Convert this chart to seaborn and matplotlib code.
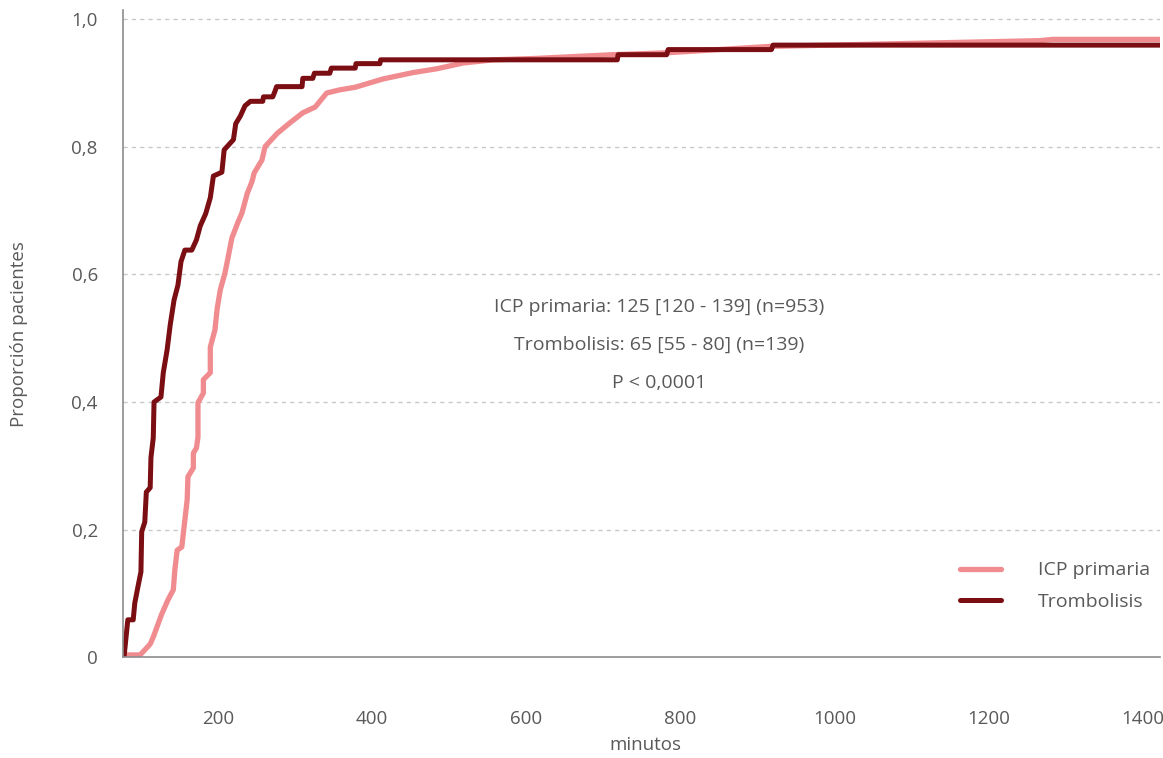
import numpy as np
import pandas as pd
import matplotlib; matplotlib.use("Agg")
import matplotlib.pyplot as plt
import seaborn as sns
from matplotlib.ticker import FixedLocator

# ── colores ──────────────────────────────────────────────────────────────────
PINK   = "#F08C8F"
DARK   = "#7A0E12"
TXT    = "#595959"
GRID   = "#C8C8C8"
SPINE  = "#8C8C8C"

# ── datos ───────────────────────────────────────────────────────────────────
icp_min = [81, 99, 112, 116, 127, 135, 142, 144, 147, 153,
           160, 161, 168, 168, 172, 174, 174, 181, 181, 190,
           190, 196, 199, 203, 209, 213, 218, 226, 231, 238,
           244, 247, 257, 261, 277, 293, 310, 326, 341, 358,
           378, 414, 453, 484, 518, 557, 609, 712, 782, 916,
           1266, 1283, 1422]
icp_prop = [0.004, 0.004, 0.021, 0.032, 0.068, 0.090, 0.106, 0.137, 0.168, 0.173,
            0.247, 0.283, 0.297, 0.320, 0.328, 0.345, 0.399, 0.414, 0.435, 0.446,
            0.486, 0.513, 0.547, 0.576, 0.602, 0.626, 0.657, 0.682, 0.696, 0.727,
            0.745, 0.759, 0.779, 0.800, 0.821, 0.837, 0.853, 0.862, 0.884, 0.889,
            0.893, 0.906, 0.916, 0.922, 0.931, 0.936, 0.938, 0.944, 0.947, 0.957,
            0.966, 0.968, 0.968]

trombo_min = [78, 83, 90, 92, 96, 100, 101, 105, 107, 112,
              113, 116, 117, 126, 129, 134, 138, 143, 148, 152,
              157, 166, 172, 177, 184, 190, 194, 205, 208, 220,
              223, 229, 235, 242, 258, 259, 271, 274, 276, 309,
              310, 323, 325, 345, 347, 378, 379, 410, 411, 718,
              719, 782, 784, 918, 920, 1422]
trombo_prop = [0.0, 0.059, 0.059, 0.085, 0.110, 0.134, 0.197, 0.212, 0.259, 0.266,
               0.313, 0.344, 0.400, 0.408, 0.446, 0.482, 0.521, 0.560, 0.583, 0.620,
               0.638, 0.638, 0.654, 0.676, 0.695, 0.720, 0.754, 0.760, 0.795, 0.811,
               0.836, 0.848, 0.864, 0.871, 0.871, 0.878, 0.878, 0.887, 0.894, 0.894,
               0.907, 0.907, 0.915, 0.915, 0.923, 0.923, 0.930, 0.930, 0.936, 0.936,
               0.944, 0.944, 0.952, 0.952, 0.959, 0.959]

x_ticks = [200, 400, 600, 800, 1000, 1200, 1400]
y_ticks = [0, 0.2, 0.4, 0.6, 0.8, 1.0]
y_labels = ["0", "0,2", "0,4", "0,6", "0,8", "1,0"]

notes = ["ICP primaria: 125 [120 - 139] (n=953)",
         "Trombolisis: 65 [55 - 80] (n=139)",
         "P < 0,0001"]

# ─────────────────────────────────────────────────────────────────────────────
sns.set_style("white")
plt.rcParams["font.family"] = ["Open Sans", "DejaVu Sans"]

df_icp = pd.DataFrame({"min": icp_min, "prop": icp_prop})
df_tro = pd.DataFrame({"min": trombo_min, "prop": trombo_prop})

fig = plt.figure(figsize=(11.63, 7.58), dpi=100)
ax = fig.add_axes([0.1056, 0.1326, 0.8918, 0.8542])

sns.lineplot(data=df_icp, x="min", y="prop", sort=False, estimator=None,
             color=PINK, lw=3.8, label="ICP primaria", ax=ax)
sns.lineplot(data=df_tro, x="min", y="prop", sort=False, estimator=None,
             color=DARK, lw=3.6, label="Trombolisis", ax=ax)

ax.set_xlim(76.5, 1422)
ax.set_ylim(0, 1.014)

ax.set_xticks(x_ticks)
ax.set_xticklabels([str(v) for v in x_ticks])
ax.set_yticks(y_ticks)
ax.set_yticklabels(y_labels)
ax.yaxis.set_minor_locator(FixedLocator([0.1, 0.3, 0.5, 0.7, 0.9]))
ax.tick_params(axis="x", length=0, pad=38, labelsize=13.5, labelcolor=TXT)
ax.tick_params(axis="y", which="major", length=0, pad=18, labelsize=13.5, labelcolor=TXT)
ax.tick_params(axis="y", which="minor", length=3, width=0.8, color="#D0D0D0", direction="in")

for y in y_ticks[1:]:
    ax.axhline(y, color=GRID, lw=1, ls=(0, (3, 3)), zorder=0)

for s in ["top", "right"]:
    ax.spines[s].set_visible(False)
for s in ["left", "bottom"]:
    ax.spines[s].set_color(SPINE)
    ax.spines[s].set_linewidth(1.2)

ax.set_xlabel("minutos", fontsize=13.5, color=TXT)
ax.set_ylabel("Proporción pacientes", fontsize=13.5, color=TXT)
ax.xaxis.set_label_coords(0.5035, -0.122)
ax.yaxis.set_label_coords(-0.091, 0.5)

for i, t in enumerate(notes):
    ax.text(0.517, 0.541 - i * 0.0587, t, transform=ax.transAxes,
            ha="center", va="center", fontsize=14, color=TXT)

leg = ax.legend(loc="center left", bbox_to_anchor=(0.807, 0.110), frameon=False,
                fontsize=14, handlelength=2.1, handletextpad=1.9,
                labelspacing=0.7, borderpad=0, borderaxespad=0)
for t in leg.get_texts():
    t.set_color(TXT)

fig.savefig("out.png", dpi=100)
